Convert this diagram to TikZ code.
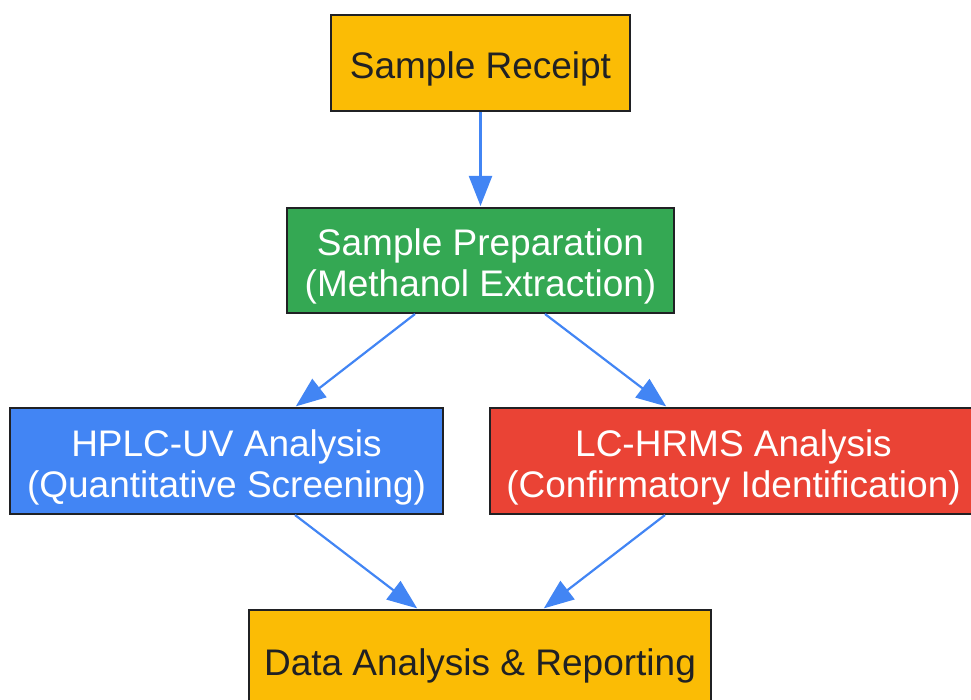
\documentclass[tikz,border=0pt]{standalone}
\usepackage{fontspec}
\setmainfont{Liberation Sans}
\usetikzlibrary{arrows.meta}
\definecolor{gyellow}{HTML}{FBBC05}
\definecolor{ggreen}{HTML}{34A853}
\definecolor{gblue}{HTML}{4285F4}
\definecolor{gred}{HTML}{EA4335}
\definecolor{gdark}{HTML}{202124}
\newcommand{\tpstrut}{\rule{0pt}{39pt}}
\tikzset{
  box/.style={draw=gdark, line width=2pt, rectangle, align=center, inner sep=0pt,
    font=\fontsize{37pt}{41pt}\selectfont},
  lightbox/.style={box, text=gdark},
  darkbox/.style={box, text=white},
  arr/.style={draw=gblue, line width=2.2pt, -{Triangle[length=30pt,width=23pt]}, shorten >=1pt}
}
\begin{document}
\begin{tikzpicture}[x=1pt,y=-1pt]
\useasboundingbox (0,0) rectangle (971,700);
\begin{scope}
\clip (0,0) rectangle (971,700);
\node[lightbox, fill=gyellow, minimum width=299pt, minimum height=96pt] (receipt) at (480.5,63) {\tpstrut Sample Receipt};
\node[darkbox, fill=ggreen, minimum width=387pt, minimum height=105pt] (prep) at (480.5,260.5) {\tpstrut Sample Preparation\\(Methanol Extraction)};
\node[darkbox, fill=gblue, minimum width=433pt, minimum height=106pt] (hplc) at (226.5,461) {\tpstrut HPLC-UV Analysis\\(Quantitative Screening)};
\node[darkbox, fill=gred, minimum width=487pt, minimum height=106pt] (lc) at (733.5,461) {\tpstrut LC-HRMS Analysis\\(Confirmatory Identification)};
\node[lightbox, fill=gyellow, minimum width=462pt, minimum height=100pt] (data) at (480,660) {\tpstrut Data Analysis \& Reporting};
\draw[arr] (receipt.south) -- (prep.north);
\draw[arr] ([xshift=-65.5pt]prep.south) -- ([xshift=68.5pt]hplc.north);
\draw[arr] ([xshift=64.5pt]prep.south) -- ([xshift=-66.5pt]lc.north);
\draw[arr] ([xshift=68.5pt]hplc.south) -- ([xshift=-62pt]data.north);
\draw[arr] ([xshift=-68.5pt]lc.south) -- ([xshift=63pt]data.north);
\end{scope}
\end{tikzpicture}
\end{document}
